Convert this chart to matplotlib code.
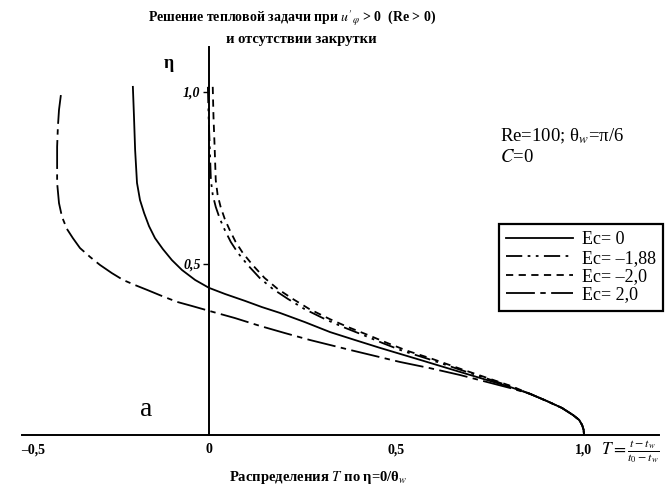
import matplotlib
matplotlib.use("Agg")
import matplotlib.pyplot as plt

plt.rcParams["font.family"] = ["Liberation Serif", "DejaVu Serif"]
plt.rcParams["mathtext.fontset"] = "stix"

# T = (t - t_w)/(t_0 - t_w) versus eta
T_ec0 = [-0.203, -0.200, -0.197, -0.192, -0.184, -0.173, -0.160, -0.144, -0.123, -0.099,
         -0.072, -0.037, 0.0, 0.043, 0.096, 0.141, 0.189, 0.256, 0.323, 0.389,
         0.456, 0.563, 0.669, 0.803, 0.856, 0.901, 0.941, 0.971, 0.987, 0.995, 0.999, 1.0]
eta_ec0 = [1.015, 0.927, 0.831, 0.735, 0.685, 0.647, 0.609, 0.574, 0.542, 0.510,
           0.481, 0.452, 0.429, 0.411, 0.391, 0.373, 0.356, 0.329, 0.300, 0.277,
           0.254, 0.219, 0.184, 0.140, 0.120, 0.099, 0.079, 0.058, 0.044, 0.029, 0.015, 0.0]

T_ec188 = [-0.003, -0.001, 0.002, 0.005, 0.010, 0.018, 0.029, 0.042, 0.058, 0.077,
           0.103, 0.135, 0.170, 0.210, 0.255, 0.309, 0.357, 0.410, 0.463, 0.517,
           0.584, 0.665, 0.801, 0.856, 0.901, 0.941, 0.971, 0.987, 0.995, 0.999, 1.0]
T_ec20m = [0.010, 0.012, 0.015, 0.018, 0.023, 0.031, 0.042, 0.055, 0.071, 0.090,
           0.116, 0.148, 0.183, 0.223, 0.268, 0.322, 0.370, 0.423, 0.476, 0.530,
           0.595, 0.673, 0.805, 0.856, 0.901, 0.941, 0.971, 0.987, 0.995, 0.999, 1.0]
eta_neg = [1.015, 0.927, 0.840, 0.743, 0.700, 0.665, 0.630, 0.598, 0.563, 0.531,
           0.496, 0.458, 0.426, 0.397, 0.367, 0.338, 0.315, 0.292, 0.268, 0.245,
           0.222, 0.192, 0.143, 0.120, 0.099, 0.079, 0.058, 0.044, 0.029, 0.015, 0.0]

T_ec20 = [-0.395, -0.400, -0.403, -0.405, -0.405, -0.405, -0.400, -0.392, -0.379, -0.363,
          -0.344, -0.317, -0.291, -0.259, -0.229, -0.197, -0.165, -0.125, -0.085, -0.045,
          0.0, 0.069, 0.136, 0.203, 0.269, 0.376, 0.509, 0.589, 0.669, 0.803,
          0.856, 0.901, 0.941, 0.971, 0.987, 0.995, 0.999, 1.0]
eta_ec20 = [0.991, 0.948, 0.898, 0.840, 0.793, 0.735, 0.676, 0.636, 0.601, 0.574,
            0.545, 0.519, 0.496, 0.472, 0.452, 0.437, 0.423, 0.405, 0.388, 0.376,
            0.362, 0.341, 0.318, 0.297, 0.277, 0.248, 0.213, 0.195, 0.175, 0.137,
            0.120, 0.099, 0.079, 0.058, 0.044, 0.029, 0.015, 0.0]

labels = ["Ec= 0", "Ec= \u20131,88", "Ec= \u20132,0", "Ec= 2,0"]
x_ticks = [-0.5, 0.0, 0.5, 1.0]
x_ticklabels = ["\u20130,5", "0", "0,5", "1,0"]
y_ticks = [0.5, 1.0]
y_ticklabels = ["0,5", "1,0"]

W, H = 666, 497
fig = plt.figure(figsize=(W / 100, H / 100), dpi=100)
ax = fig.add_axes([0, 0, 1, 1])
# pixel mapping of the original: T=0 at x=209, 375 px per unit; eta=0 at y=435, 343 px per unit
ax.set_xlim(-209 / 375, (W - 209) / 375)
ax.set_ylim(-(H - 435) / 343, 435 / 343)

lw = 1.3
ax.plot(T_ec0, eta_ec0, color="black", lw=lw, label=labels[0])
ax.plot(T_ec188, eta_neg, color="black", lw=lw, dashes=(9, 3, 1.5, 3, 1.5, 3), label=labels[1])
ax.plot(T_ec20m, eta_neg, color="black", lw=lw, dashes=(4, 3), label=labels[2])
ax.plot(T_ec20, eta_ec20, color="black", lw=lw, dashes=(16, 3, 3, 3), label=labels[3])

for side in ["top", "right"]:
    ax.spines[side].set_visible(False)
ax.spines["left"].set_position("zero")
ax.spines["bottom"].set_position("zero")
ax.spines["left"].set_bounds(0, 1.13)
ax.spines["bottom"].set_bounds(-0.5, 1.2)
ax.spines["left"].set_linewidth(1.4)
ax.spines["bottom"].set_linewidth(1.4)

ax.set_xticks(x_ticks)
ax.set_xticklabels(x_ticklabels, fontsize=10, fontweight="bold")
ax.tick_params(axis="x", length=0, pad=6)
ax.get_xticklabels()[0].set_horizontalalignment("left")
ax.set_yticks(y_ticks)
ax.set_yticklabels(y_ticklabels, fontsize=10, fontstyle="italic", fontweight="bold")
ax.tick_params(axis="y", direction="out", length=4, width=1, pad=2)

ax.text(-0.12, 1.07, "\u03b7", fontsize=13, fontweight="bold")
fig.text(601 / W, 1 - 452 / H, "$T = \\frac{t - t_w}{t_0 - t_w}$", fontsize=12.5,
         ha="left", va="center")

fig.text(292 / W, 1 - 18 / H, "Решение тепловой задачи при $u'_\\varphi$ > 0  (Re > 0)",
         fontsize=10, fontweight="bold", ha="center", va="center")
fig.text(301 / W, 1 - 40 / H, "и отсутствии закрутки",
         fontsize=10.5, fontweight="bold", ha="center", va="center")
fig.text(318 / W, 1 - 478 / H, "Распределения $T$ по \u03b7=0/\u03b8$_w$",
         fontsize=10.5, fontweight="bold", ha="center", va="center")

fig.text(500 / W, 1 - 136 / H, "Re=100; \u03b8$_w$=\u03c0/6", fontsize=13.5, ha="left", va="center")
fig.text(500 / W, 1 - 157 / H, "$C$=0", fontsize=13.5, ha="left", va="center")
fig.text(140 / W, 1 - 410 / H, "a", fontsize=20, ha="left", va="center")

leg = ax.legend(loc="upper left", bbox_to_anchor=(490 / W, 1 - 215 / H),
                prop={"size": 13},
                handlelength=3.7, handletextpad=0.5, labelspacing=0.08, borderpad=0.4,
                fancybox=False, framealpha=1, edgecolor="black")
leg.get_frame().set_linewidth(1.6)

fig.savefig("out.png", dpi=100)
